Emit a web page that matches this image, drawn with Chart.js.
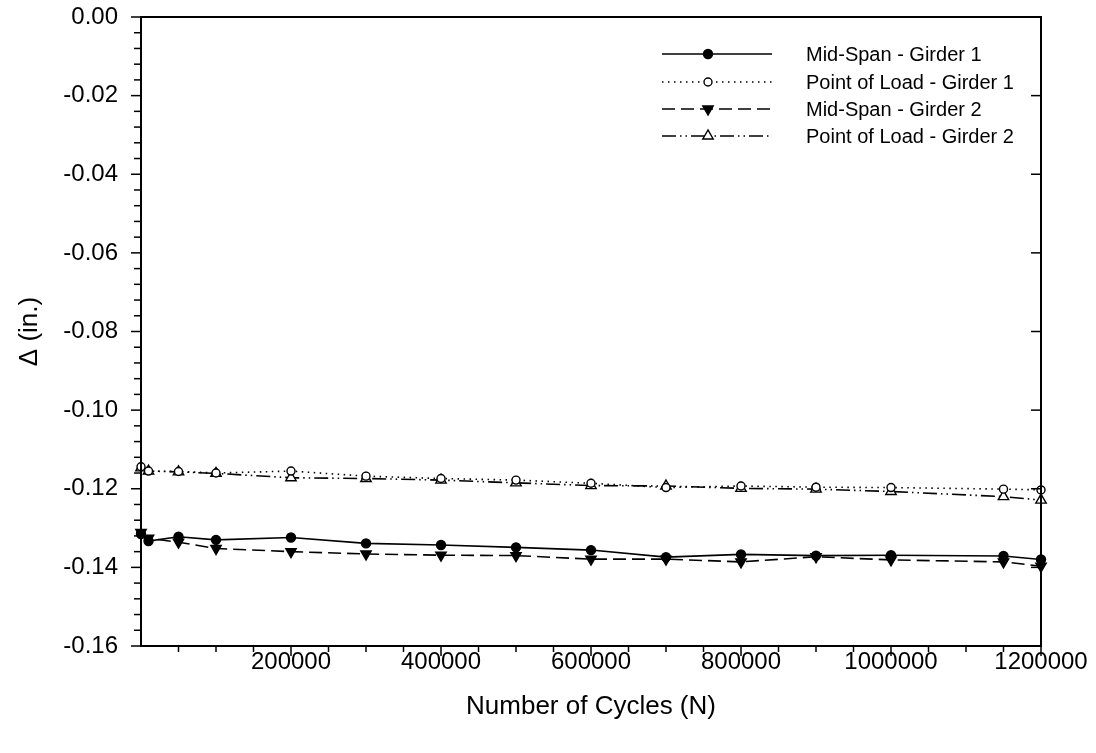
<!DOCTYPE html>
<html>
<head>
<meta charset="utf-8">
<script src="https://cdn.jsdelivr.net/npm/chart.js@4.4.1/dist/chart.umd.min.js"></script>
<style>
  html, body { margin: 0; padding: 0; background: #fff; }
  #wrap { width: 1096px; height: 753px; }
</style>
</head>
<body>
<div id="wrap"><canvas id="c" width="1096" height="753"></canvas></div>
<script>
// ---- data ----
const cycles = [0, 10000, 50000, 100000, 200000, 300000, 400000, 500000, 600000, 700000, 800000, 900000, 1000000, 1150000, 1200000];
const midSpanG1 = [-0.1315, -0.1333, -0.1322, -0.1330, -0.1324, -0.1339, -0.1343, -0.1349, -0.1356, -0.1374, -0.1367, -0.1370, -0.1369, -0.1371, -0.1380];
const pointLoadG1 = [-0.1144, -0.1155, -0.1156, -0.1160, -0.1155, -0.1168, -0.1174, -0.1178, -0.1186, -0.1197, -0.1193, -0.1196, -0.1197, -0.1201, -0.1203];
const midSpanG2 = [-0.1311, -0.1326, -0.1336, -0.1352, -0.1360, -0.1366, -0.1369, -0.1370, -0.1379, -0.1379, -0.1386, -0.1373, -0.1381, -0.1386, -0.1397];
const pointLoadG2 = [-0.1147, -0.1155, -0.1157, -0.1161, -0.1172, -0.1174, -0.1178, -0.1185, -0.1192, -0.1193, -0.1199, -0.1201, -0.1207, -0.1220, -0.1229];
const seriesNames = ["Mid-Span - Girder 1", "Point of Load - Girder 1", "Mid-Span - Girder 2", "Point of Load - Girder 2"];
const xTickValues = [200000, 400000, 600000, 800000, 1000000, 1200000];
const yTickValues = [0, -0.02, -0.04, -0.06, -0.08, -0.10, -0.12, -0.14, -0.16];

const FONT = "'Liberation Sans', Arial, Helvetica, sans-serif";
const toPts = ys => cycles.map((x, i) => ({x: x, y: ys[i]}));

const styles = [
  {dash: [], pointStyle: 'circle', fill: '#000', radius: 4.5, rotation: 0},
  {dash: [1.5, 4.5], pointStyle: 'circle', fill: '#fff', radius: 4, rotation: 0},
  {dash: [13, 6], pointStyle: 'triangle', fill: '#000', radius: 6, rotation: 180},
  {dash: [14, 4, 1.5, 4, 1.5, 4], pointStyle: 'triangle', fill: '#fff', radius: 6, rotation: 0}
];
const seriesData = [midSpanG1, pointLoadG1, midSpanG2, pointLoadG2];

const datasets = seriesData.map((d, i) => ({
  label: seriesNames[i],
  data: toPts(d),
  showLine: true,
  borderColor: '#000',
  borderWidth: 1.6,
  borderDash: styles[i].dash,
  pointStyle: styles[i].pointStyle,
  pointRadius: styles[i].radius,
  pointHoverRadius: styles[i].radius,
  pointRotation: styles[i].rotation,
  pointBackgroundColor: styles[i].fill,
  pointBorderColor: '#000',
  pointBorderWidth: 1.4,
  tension: 0,
  clip: false
}));

function drawMarker(ctx, s, x, y) {
  ctx.save();
  ctx.setLineDash([]);
  ctx.lineWidth = 1.4;
  ctx.strokeStyle = '#000';
  ctx.fillStyle = s.fill;
  ctx.beginPath();
  if (s.pointStyle === 'circle') {
    ctx.arc(x, y, s.radius, 0, Math.PI * 2);
  } else {
    const r = s.radius;
    const dir = s.rotation === 180 ? -1 : 1;
    const a = [Math.PI / 2, Math.PI / 2 + 2 * Math.PI / 3, Math.PI / 2 + 4 * Math.PI / 3];
    a.forEach((ang, k) => {
      const px = x + r * Math.cos(ang);
      const py = y - dir * r * Math.sin(ang);
      if (k === 0) ctx.moveTo(px, py); else ctx.lineTo(px, py);
    });
    ctx.closePath();
  }
  ctx.fill();
  ctx.stroke();
  ctx.restore();
}

const framePlugin = {
  id: 'frame',
  afterDraw(chart) {
    const ctx = chart.ctx;
    const a = chart.chartArea;
    const xs = chart.scales.x, ys = chart.scales.y;
    ctx.save();
    ctx.strokeStyle = '#000';
    ctx.lineWidth = 2;
    ctx.setLineDash([]);
    ctx.strokeRect(a.left, a.top, a.right - a.left, a.bottom - a.top);
    ctx.lineWidth = 1.5;
    // y ticks (minor every 0.004)
    for (let k = 0; k <= 40; k++) {
      const v = -k * 0.004;
      const py = ys.getPixelForValue(v);
      const major = k % 5 === 0;
      ctx.beginPath();
      ctx.moveTo(a.left, py);
      ctx.lineTo(a.left - (major ? 10 : 7), py);
      ctx.stroke();
      if (major && k !== 0 && k !== 40) {
        ctx.beginPath();
        ctx.moveTo(a.right, py);
        ctx.lineTo(a.right - 10, py);
        ctx.stroke();
      }
    }
    // x ticks (minor every 50000)
    for (let k = 1; k <= 24; k++) {
      const v = k * 50000;
      const px = xs.getPixelForValue(v);
      const major = k % 4 === 0;
      ctx.beginPath();
      ctx.moveTo(px, a.bottom);
      ctx.lineTo(px, a.bottom + (major ? 10 : 6));
      ctx.stroke();
    }
    // legend
    const lx1 = 662, lx2 = 772, mx = 708, tx = 806;
    const rows = [54, 82, 109, 136];
    ctx.font = '20px ' + FONT;
    ctx.fillStyle = '#000';
    ctx.textBaseline = 'middle';
    ctx.textAlign = 'left';
    rows.forEach((ry, i) => {
      ctx.save();
      ctx.lineWidth = 1.6;
      ctx.setLineDash(styles[i].dash);
      ctx.beginPath();
      ctx.moveTo(lx1, ry);
      ctx.lineTo(lx2, ry);
      ctx.stroke();
      ctx.restore();
      drawMarker(ctx, styles[i], mx, ry);
      ctx.fillText(seriesNames[i], tx, ry + 1);
    });
    ctx.restore();
  }
};

new Chart(document.getElementById('c'), {
  type: 'scatter',
  data: {datasets: datasets},
  options: {
    responsive: false,
    animation: false,
    devicePixelRatio: 1,
    layout: {padding: {top: 17, right: 55, left: 0, bottom: 0}},
    plugins: {legend: {display: false}, tooltip: {enabled: false}},
    scales: {
      x: {
        type: 'linear',
        min: 0, max: 1200000,
        afterFit: s => { s.height = 107; },
        afterBuildTicks: s => { s.ticks = xTickValues.map(v => ({value: v})); },
        grid: {display: false, drawTicks: true, tickLength: 2},
        border: {display: false},
        ticks: {
          color: '#000', padding: 0, maxRotation: 0, autoSkip: false,
          font: {family: FONT, size: 24},
          callback: v => String(v)
        },
        title: {
          display: true, text: 'Number of Cycles (N)', color: '#000',
          font: {family: FONT, size: 26}, padding: {top: 0, bottom: 31}
        }
      },
      y: {
        type: 'linear',
        min: -0.16, max: 0,
        afterFit: s => { s.width = 141; },
        afterBuildTicks: s => { s.ticks = yTickValues.map(v => ({value: v})); },
        grid: {display: false, drawTicks: true, tickLength: 23},
        border: {display: false},
        ticks: {
          color: '#000', padding: 0, autoSkip: false,
          font: {family: FONT, size: 24},
          callback: v => Math.abs(v) < 1e-9 ? '0.00' : v.toFixed(2)
        },
        title: {
          display: true, text: 'Δ (in.)', color: '#000',
          font: {family: FONT, size: 26}, padding: {top: 14, bottom: 0}
        }
      }
    }
  },
  plugins: [framePlugin]
});
</script>
</body>
</html>
